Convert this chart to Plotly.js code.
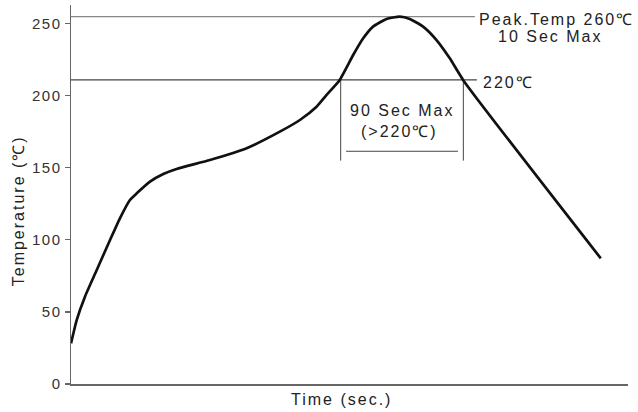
<!DOCTYPE html>
<html>
<head>
<meta charset="utf-8">
<script src="https://cdn.plot.ly/plotly-3.0.1.min.js"></script>
<style>
html,body{margin:0;padding:0;background:#fff;}
#chart{width:638px;height:412px;}
svg text.annotation-text{letter-spacing:2px;}
svg .ytick text{letter-spacing:1.5px;}
</style>
</head>
<body>
<div id="chart"></div>
<script>
// Reflow profile curve (time in sec, temperature in degC)
var timeSec = [0, 4.2, 10.3, 19.0, 28.8, 36.1, 43.5, 48.5, 58.3, 68.1, 77.9, 102.5, 129.6, 154.1, 168.9, 181.2, 188.6, 198.0, 208.2, 215.6, 222.9, 232.8, 242.6, 250.0, 259.8, 269.7, 279.5, 289.8, 390.9];
var tempC   = [28.2, 44.4, 60.6, 79.1, 99.9, 115.0, 127.7, 132.3, 140.4, 145.7, 149.2, 155.4, 163.6, 175.1, 183.2, 192.4, 200.6, 210.6, 228.3, 239.9, 248.0, 253.3, 254.9, 253.3, 248.0, 238.7, 226.0, 210.3, 87.2];

// Reference levels as drawn
var peakLineX = [0, 298];
var peakLineY = [255, 255];
var liquidLineX = [0, 299.5];
var liquidLineY = [211, 211];

// 90 second window marks
var windowLeftX = [199, 199];
var windowRightX = [289.5, 289.5];
var windowVY = [211, 155];
var windowBarX = [203, 285.5];
var windowBarY = [161.5, 161.5];

var yTicks = [0, 50, 100, 150, 200, 250];

var labels = [
  {text: 'Peak.Temp 260℃', x: 299.5, y: 253, xanchor: 'left'},
  {text: '10 Sec Max', x: 353.5, y: 241, xanchor: 'center'},
  {text: '220℃', x: 302.5, y: 209, xanchor: 'left'},
  {text: '90 Sec Max', x: 244.5, y: 190, xanchor: 'center'},
  {text: '(>220℃)', x: 242.5, y: 175, xanchor: 'center'}
];

var xTitle = 'Time (sec.)';
var yTitle = 'Temperature (℃)';

var fontFam = '"Liberation Sans", Arial, sans-serif';
var txtCol = '#222';

var traces = [
  {x: peakLineX, y: peakLineY, mode: 'lines', line: {color: '#888', width: 1.2}, hoverinfo: 'skip'},
  {x: liquidLineX, y: liquidLineY, mode: 'lines', line: {color: '#444', width: 1.2}, hoverinfo: 'skip'},
  {x: windowLeftX, y: windowVY, mode: 'lines', line: {color: '#444', width: 1}, hoverinfo: 'skip'},
  {x: windowRightX, y: windowVY, mode: 'lines', line: {color: '#444', width: 1}, hoverinfo: 'skip'},
  {x: windowBarX, y: windowBarY, mode: 'lines', line: {color: '#444', width: 1}, hoverinfo: 'skip'},
  {x: timeSec, y: tempC, mode: 'lines', line: {color: '#111', width: 2.7, shape: 'spline', smoothing: 0.5}}
];

var annots = labels.map(function(l){
  return {text: l.text, x: l.x, y: l.y, xref: 'x', yref: 'y', xanchor: l.xanchor, yanchor: 'middle',
          showarrow: false, font: {size: 16, color: txtCol}};
});
// axis titles placed as in the reference
annots.push({text: xTitle, xref: 'paper', yref: 'paper', x: 0.485, y: -0.042,
             xanchor: 'center', yanchor: 'middle', showarrow: false, font: {size: 16, color: txtCol}});
annots.push({text: yTitle, xref: 'paper', yref: 'paper', x: -0.095, y: 0.456, textangle: -90,
             xanchor: 'center', yanchor: 'middle', showarrow: false, font: {size: 16, color: txtCol}});

var layout = {
  width: 638, height: 412,
  margin: {l: 71, r: 10, t: 5, b: 28},
  paper_bgcolor: '#fff', plot_bgcolor: '#fff',
  showlegend: false,
  font: {family: fontFam, color: txtCol, size: 16},
  xaxis: {
    range: [0, 411],
    showgrid: false, zeroline: false,
    showline: true, linecolor: '#666', linewidth: 1.5,
    showticklabels: false, ticks: ''
  },
  yaxis: {
    range: [0, 263],
    showgrid: false, zeroline: false,
    showline: true, linecolor: '#666', linewidth: 1.5,
    tickvals: yTicks, ticktext: yTicks.map(String),
    ticks: 'outside', ticklen: 5, tickcolor: '#666', tickwidth: 1.2,
    tickfont: {size: 15, color: '#333'}
  },
  annotations: annots
};

Plotly.newPlot('chart', traces, layout, {staticPlot: true, displayModeBar: false});
</script>
</body>
</html>
